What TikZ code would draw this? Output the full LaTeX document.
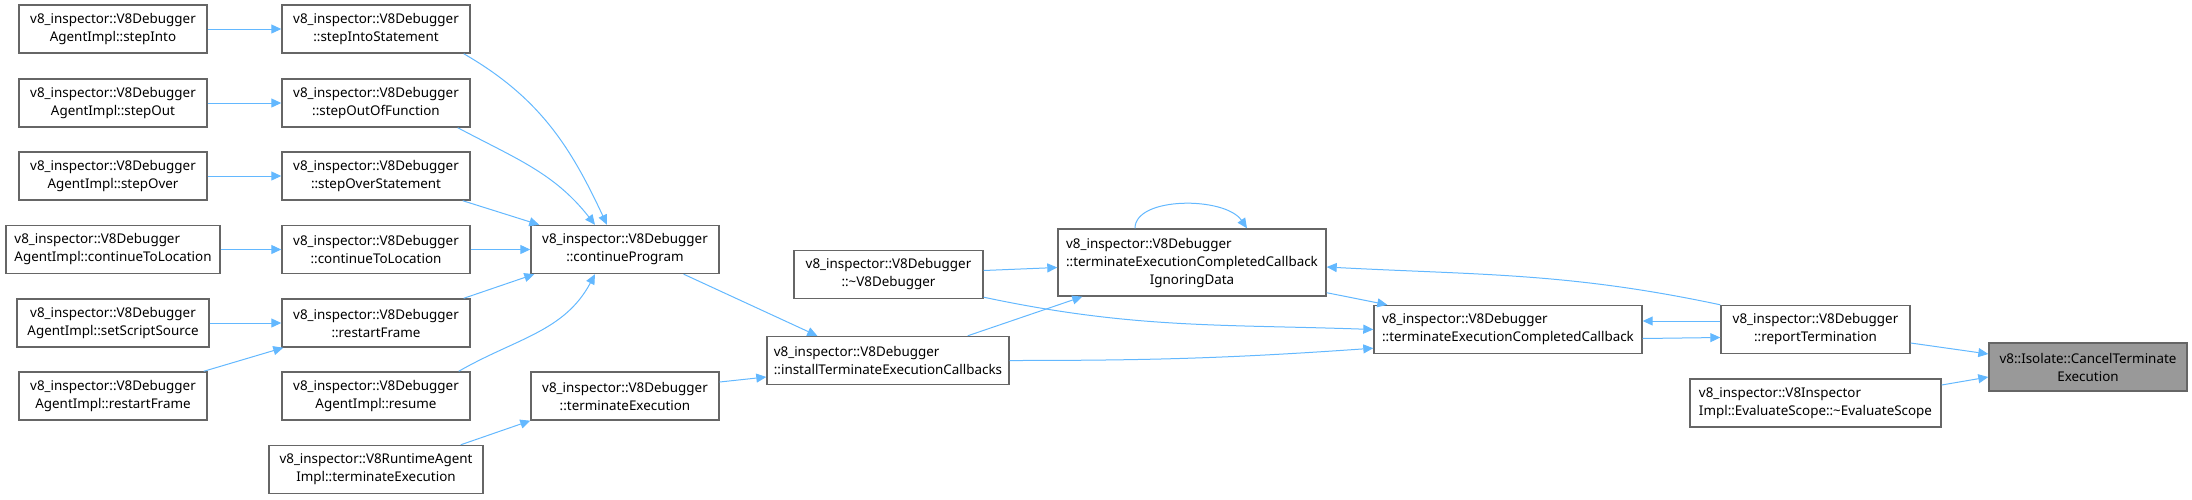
\documentclass[tikz,border=0pt]{standalone}
\usepackage{fontspec}
\setmainfont{Noto Sans}
\usetikzlibrary{arrows.meta, calc}
\definecolor{cEdge}{HTML}{63B8FF}
\definecolor{cBorder}{HTML}{666666}
\definecolor{cFocus}{HTML}{999999}

\begin{document}
\begin{tikzpicture}[
  x=0.5pt, y=-0.5pt,
  fn/.style={
    draw=cBorder, line width=0.7pt, fill=white, inner sep=0pt,
    minimum width=94pt, minimum height=24pt, align=center,
    font=\fontsize{6.7}{9}\selectfont
  },
  fnl/.style={fn, align=left},
  focus/.style={fn, fill=cFocus},
  call/.style={
    -{Triangle[length=5pt, width=4.5pt]}, draw=cEdge, line width=0.5pt
  },
]
\useasboundingbox (0,0) rectangle (2192,499);

% column 1: agent callers
\node[fn] (aInto) at (113,29) {v8\_inspector::V8Debugger\\AgentImpl::stepInto};
\node[fn] (aOut) at (113,103) {v8\_inspector::V8Debugger\\AgentImpl::stepOut};
\node[fn] (aOver) at (113,176) {v8\_inspector::V8Debugger\\AgentImpl::stepOver};
\node[fnl, minimum width=107pt] (aCont) at (113,249.5) {v8\_inspector::V8Debugger\\AgentImpl::continueToLocation};
\node[fn, minimum width=96pt] (aSrc) at (113,323) {v8\_inspector::V8Debugger\\AgentImpl::setScriptSource};
\node[fn] (aRestart) at (113,396) {v8\_inspector::V8Debugger\\AgentImpl::restartFrame};

% column 2: debugger steps
\node[fn] (sInto) at (376,29) {v8\_inspector::V8Debugger\\::stepIntoStatement};
\node[fn] (sOut) at (376,103) {v8\_inspector::V8Debugger\\::stepOutOfFunction};
\node[fn] (sOver) at (376,176) {v8\_inspector::V8Debugger\\::stepOverStatement};
\node[fn] (sCont) at (376,249.5) {v8\_inspector::V8Debugger\\::continueToLocation};
\node[fn] (sRestart) at (376,323) {v8\_inspector::V8Debugger\\::restartFrame};
\node[fn] (resume) at (376,396) {v8\_inspector::V8Debugger\\AgentImpl::resume};
\node[fn, minimum width=107pt] (rtAgent) at (376,469.5) {v8\_inspector::V8RuntimeAgent\\Impl::terminateExecution};

% column 3
\node[fn] (prog) at (625,249.5) {v8\_inspector::V8Debugger\\::continueProgram};
\node[fn] (termExec) at (625,396) {v8\_inspector::V8Debugger\\::terminateExecution};

% column 4
\node[fn, minimum width=94.5pt] (dtor) at (888.5,274.5) {v8\_inspector::V8Debugger\\::\textasciitilde V8Debugger};
\node[fnl, minimum width=121pt] (install) at (888,360.5) {v8\_inspector::V8Debugger\\::installTerminateExecutionCallbacks};

% column 5
\node[fn, minimum width=134pt, minimum height=33.5pt] (ign) at (1192,262.5)
  {\begin{tabular}{@{}l@{}}v8\_inspector::V8Debugger\\::terminateExecutionCompletedCallback\\\multicolumn{1}{@{}c@{}}{IgnoringData}\end{tabular}};
\node[fnl, minimum width=134pt] (tecc) at (1508,329.5) {v8\_inspector::V8Debugger\\::terminateExecutionCompletedCallback};

% column 6
\node[fn, minimum width=94.5pt] (report) at (1815.5,329.5) {v8\_inspector::V8Debugger\\::reportTermination};
\node[fnl, minimum width=125.5pt] (evals) at (1815.5,403) {v8\_inspector::V8Inspector\\Impl::EvaluateScope::\textasciitilde EvaluateScope};

% target
\node[focus, minimum width=99pt] (cancel) at (2088,367) {v8::Isolate::CancelTerminate\\Execution};

% agent -> debugger
\draw[call] (aInto) -- (sInto);
\draw[call] (aOut) -- (sOut);
\draw[call] (aOver) -- (sOver);
\draw[call] (aCont) -- (sCont);
\draw[call] (aSrc) -- (sRestart);
\draw[call] ($(aRestart.north east)+(-4,0)$) -- ($(sRestart.south west)+(2,0)$);

% into continueProgram
\draw[call] ($(sInto.south east)+(-7,0)$) to[out=-30,in=115] ($(prog.north)+(-18,0)$);
\draw[call] ($(sOut.south east)+(-13,0)$) to[out=-28,in=128] ($(prog.north)+(-30,0)$);
\draw[call] ($(sOver.south east)+(-8,0)$) -- ($(prog.north west)+(9,0)$);
\draw[call] (sCont) -- (prog);
\draw[call] ($(sRestart.north east)+(-7,0)$) -- ($(prog.south west)+(4,0)$);
\draw[call] ($(resume.north east)+(-12,0)$) to[out=30,in=-118] ($(prog.south)+(-30,0)$);
\draw[call] ($(rtAgent.north east)+(-23,0)$) -- (termExec.south west);

% into install / completed callbacks
\draw[call] ($(prog.south east)+(-36,0)$) -- ($(install.north west)+(51,0)$);
\draw[call] ($(termExec.east)+(0,-14)$) -- ($(install.west)+(0,16.5)$);
\draw[call] ($(dtor.east)+(0,-4)$) -- ($(ign.west)+(0,5)$);
\draw[call] ($(dtor.south east)+(0,-2)$) to[out=-12,in=178] (tecc.west);
\draw[call] ($(install.north east)+(-42,0)$) -- ($(ign.south west)+(25,0)$);
\draw[call] (install.east) to[out=0,in=184] ($(tecc.south west)+(0,-6)$);
\draw[call] ($(ign.north)+(-57,0)$) .. controls +(0,-32) and +(-22,-32) .. ($(ign.north)+(55,0)$);
\draw[call] ($(ign.south east)+(0,-4)$) -- ($(tecc.north west)+(14,0)$);

% reportTermination
\draw[call] (report.north west) to[out=168,in=-3] ($(ign.east)+(0,4.5)$);
\draw[call] ($(report.west)+(0,-8.5)$) -- ($(tecc.east)+(0,-8.5)$);
\draw[call] ($(tecc.east)+(0,9)$) -- ($(report.west)+(0,8)$);
\draw[call] ($(report.east)+(0,13.5)$) -- ($(cancel.west)+(0,-13)$);
\draw[call] ($(evals.east)+(0,-18)$) -- ($(cancel.west)+(0,10)$);

\end{tikzpicture}
\end{document}
